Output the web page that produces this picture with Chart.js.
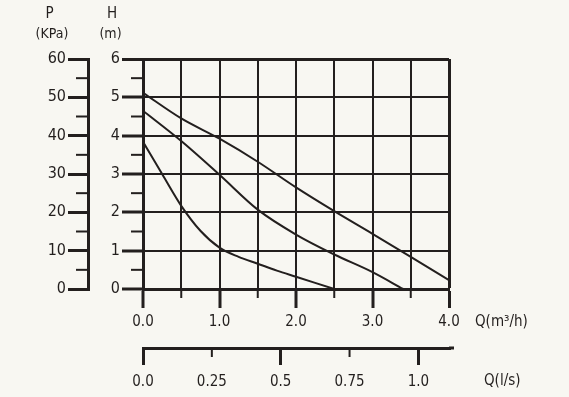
<!DOCTYPE html>
<html><head><meta charset="utf-8">
<script src="https://cdn.jsdelivr.net/npm/chart.js@4"></script>
<style>html,body{margin:0;padding:0;background:#f8f7f2;}canvas{display:block;}</style>
</head><body>
<canvas id="c" width="569" height="397"></canvas>
<script>
// ---- data ----
const qHigh = [0, 0.5, 1, 1.5, 2, 2.5, 3, 3.5, 4];
const hHigh = [5.12, 4.45, 3.92, 3.32, 2.65, 2.03, 1.44, 0.84, 0.23];
const qMid  = [0, 0.5, 1, 1.5, 2, 2.5, 3, 3.4];
const hMid  = [4.65, 3.86, 2.98, 2.07, 1.42, 0.9, 0.44, 0];
const qLow  = [0, 0.25, 0.5, 0.75, 1, 1.25, 1.5, 1.75, 2, 2.5];
const hLow  = [3.84, 3.0, 2.17, 1.52, 1.08, 0.84, 0.66, 0.48, 0.32, 0];

const hTicks  = [0, 1, 2, 3, 4, 5, 6];
const hMinor  = [0.5, 1.5, 2.5, 3.5, 4.5, 5.5];
const pTicks  = [0, 10, 20, 30, 40, 50, 60];
const pMinor  = [5, 15, 25, 35, 45, 55];
const qTicks  = [0, 0.5, 1, 1.5, 2, 2.5, 3, 3.5, 4];
const qLabels = ['0.0', '', '1.0', '', '2.0', '', '3.0', '', '4.0'];
const qMinor  = [0.5, 1.5, 2.5, 3.5];
const lsTicks  = [0, 0.25, 0.5, 0.75, 1.0];
const lsLabels = ['0.0', '0.25', '0.5', '0.75', '1.0'];
const lsMajor  = [0, 0.5, 1.0];
const lsMinor  = [0.25, 0.75];
const M3H_PER_LS = 3.6;

const DARK = '#231f1e';
const BG = '#f8f7f2';
const F = '"DejaVu Sans Condensed", "Liberation Sans Narrow", "DejaVu Sans", sans-serif';

function pts(xs, ys) { return xs.map((v, i) => ({x: v, y: ys[i]})); }
function ds(xs, ys) {
  return {data: pts(xs, ys), borderColor: DARK, borderWidth: 2, pointRadius: 0,
          fill: false, cubicInterpolationMode: 'monotone', xAxisID: 'x', yAxisID: 'y'};
}

const bgPlugin = {
  id: 'bg',
  beforeDraw(chart) {
    const c = chart.ctx; c.save(); c.fillStyle = BG;
    c.fillRect(0, 0, chart.width, chart.height); c.restore();
  }
};

const extras = {
  id: 'extras',
  afterDraw(chart) {
    const c = chart.ctx;
    const {x, y, p, ls} = chart.scales;
    const line = (x1, y1, x2, y2) => { c.beginPath(); c.moveTo(x1, y1); c.lineTo(x2, y2); c.stroke(); };
    c.save();
    c.strokeStyle = DARK; c.lineWidth = 2; c.lineCap = 'butt';
    hMinor.forEach(v => { const py = y.getPixelForValue(v); line(y.right - 12, py, y.right, py); });
    pMinor.forEach(v => { const py = p.getPixelForValue(v); line(p.right - 12, py, p.right, py); });
    qMinor.forEach(v => { const px = x.getPixelForValue(v); line(px, x.top, px, x.top + 9); });
    lsMinor.forEach(v => { const px = ls.getPixelForValue(v); line(px, ls.top, px, ls.top + 9); });
    c.lineWidth = 3;
    line(ls.right, ls.top, ls.right + 5, ls.top);
    // titles
    c.fillStyle = DARK; c.textAlign = 'center'; c.textBaseline = 'middle';
    const top = chart.chartArea.top;
    c.font = '15px ' + F;
    c.fillText('P', p.right - 38.5, top - 45);
    c.fillText('H', y.right - 31, top - 45);
    c.font = '14px ' + F;
    c.fillText('(KPa)', p.right - 36, top - 25);
    c.fillText('(m)', y.right - 32.5, top - 25);
    c.textAlign = 'left';
    c.font = '15px ' + F;
    c.fillText('Q(m\u00B3/h)', x.right + 26, x.top + 33);
    c.fillText('Q(l/s)', ls.right + 35, ls.top + 33);
    c.restore();
  }
};

new Chart(document.getElementById('c'), {
  type: 'line',
  data: { datasets: [ds(qHigh, hHigh), ds(qMid, hMid), ds(qLow, hLow)] },
  options: {
    responsive: false, animation: false, devicePixelRatio: 1,
    layout: { padding: { left: 0, top: 59, right: 120, bottom: 0 } },
    plugins: { legend: { display: false }, tooltip: { enabled: false } },
    scales: {
      x: {
        type: 'linear', position: 'bottom', min: 0, max: 4, weight: 0,
        afterBuildTicks: s => { s.ticks = qTicks.map(v => ({value: v})); },
        afterFit: s => { s.height = 59; },
        border: { display: true, color: DARK, width: 3 },
        grid: {
          color: DARK,
          lineWidth: ctx => (ctx.tick && ctx.tick.value === 4) ? 3 : 2,
          tickLength: 19, tickWidth: 3,
          tickColor: ctx => (ctx.tick && ctx.tick.value % 1) ? 'rgba(0,0,0,0)' : DARK
        },
        ticks: { color: DARK, font: { family: F, size: 15 }, padding: 5,
                 maxRotation: 0, autoSkip: false,
                 callback: (v, i) => qLabels[i] }
      },
      ls: {
        type: 'linear', position: 'bottom', min: 0, max: 4 / M3H_PER_LS, weight: 1,
        afterBuildTicks: s => { s.ticks = lsTicks.map(v => ({value: v})); },
        afterFit: s => { s.height = 49; },
        border: { display: true, color: DARK, width: 3 },
        grid: {
          drawOnChartArea: false, color: DARK, lineWidth: 3,
          tickLength: 17, tickWidth: 3,
          tickColor: ctx => (ctx.tick && lsMajor.includes(ctx.tick.value)) ? DARK : 'rgba(0,0,0,0)'
        },
        ticks: { color: DARK, font: { family: F, size: 15 }, padding: 8,
                 maxRotation: 0, autoSkip: false,
                 callback: (v, i) => lsLabels[i] }
      },
      y: {
        type: 'linear', position: 'left', min: 0, max: 6, weight: 0,
        afterBuildTicks: s => { s.ticks = hTicks.map(v => ({value: v})); },
        afterFit: s => { s.width = 55; },
        border: { display: true, color: DARK, width: 3 },
        grid: {
          color: DARK,
          lineWidth: ctx => (ctx.tick && ctx.tick.value === 6) ? 3 : 2,
          tickLength: 21, tickWidth: 3, tickColor: DARK
        },
        ticks: { color: DARK, font: { family: F, size: 16 }, padding: 2,
                 callback: v => String(v) }
      },
      p: {
        type: 'linear', position: 'left', min: 0, max: 60, weight: 1,
        afterBuildTicks: s => { s.ticks = pTicks.map(v => ({value: v})); },
        afterFit: s => { s.width = 88; },
        border: { display: true, color: DARK, width: 3 },
        grid: { drawOnChartArea: false, color: DARK, lineWidth: 3,
                tickLength: 20, tickWidth: 3, tickColor: DARK },
        ticks: { color: DARK, font: { family: F, size: 16 }, padding: 2,
                 callback: v => String(v) }
      }
    }
  },
  plugins: [bgPlugin, extras]
});
</script>
</body></html>
